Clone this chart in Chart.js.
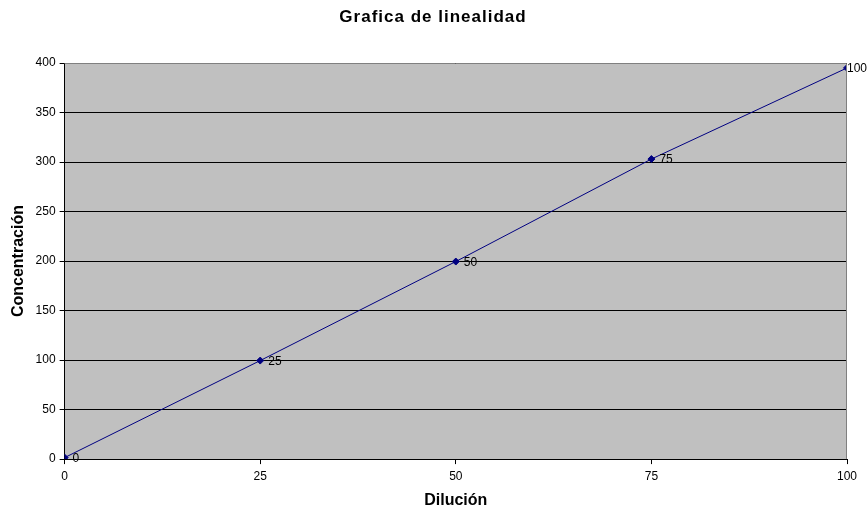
<!DOCTYPE html>
<html>
<head>
<meta charset="utf-8">
<script src="https://cdn.jsdelivr.net/npm/chart.js@4"></script>
<style>
html,body{margin:0;padding:0;background:#fff;}
#wrap{width:867px;height:509px;}
</style>
</head>
<body>
<div id="wrap"><canvas id="c" width="867" height="509"></canvas></div>
<script>
const dilucion = [0, 25, 50, 75, 100];
const concentracion = [1.5, 99.5, 199.5, 303, 395];
const pointLabels = ['0', '25', '50', '75', '100'];
const xTicks = [0, 25, 50, 75, 100];
const chartTitle = 'Grafica de linealidad';

const FAM = '"Liberation Sans", Arial, sans-serif';

const bgPlugin = {
  id: 'bg',
  beforeDraw(chart) {
    const {ctx, chartArea: a} = chart;
    ctx.save();
    ctx.fillStyle = '#C0C0C0';
    ctx.fillRect(a.left, a.top, a.right - a.left, a.bottom - a.top);
    ctx.restore();
  },
  afterDraw(chart) {
    const {ctx, chartArea: a} = chart;
    ctx.save();
    ctx.strokeStyle = '#808080';
    ctx.lineWidth = 1;
    ctx.beginPath();
    ctx.moveTo(a.left, a.top + 0.5);
    ctx.lineTo(a.right - 0.5, a.top + 0.5);
    ctx.lineTo(a.right - 0.5, a.bottom);
    ctx.stroke();
    // title with slight letter spacing
    const tb = chart.titleBlock;
    ctx.fillStyle = '#000';
    ctx.font = 'bold 17px ' + FAM;
    ctx.textAlign = 'center';
    ctx.textBaseline = 'middle';
    const sp = 1.0;
    if ('letterSpacing' in ctx) ctx.letterSpacing = sp + 'px';
    ctx.fillText(chartTitle, chart.width / 2 - 1 + sp / 2, tb.top + 11);
    ctx.restore();
  }
};

const labelPlugin = {
  id: 'ptLabels',
  afterDatasetsDraw(chart) {
    const {ctx} = chart;
    const meta = chart.getDatasetMeta(0);
    ctx.save();
    ctx.fillStyle = '#000';
    ctx.font = '12px ' + FAM;
    ctx.textBaseline = 'middle';
    ctx.textAlign = 'left';
    meta.data.forEach((p, i) => {
      const w = ctx.measureText(pointLabels[i]).width;
      const x = Math.min(p.x + 8, chart.width - w);
      ctx.fillText(pointLabels[i], x, p.y + 1);
    });
    ctx.restore();
  }
};

new Chart(document.getElementById('c'), {
  type: 'scatter',
  data: {
    datasets: [{
      data: dilucion.map((x, i) => ({x: x, y: concentracion[i]})),
      showLine: true,
      borderColor: '#000080',
      backgroundColor: '#000080',
      borderWidth: 1,
      pointStyle: 'rectRot',
      pointRadius: 3.5,
      pointHoverRadius: 3.5
    }]
  },
  options: {
    responsive: false,
    animation: false,
    events: [],
    layout: {padding: {left: 10, right: 20, top: 6, bottom: 0}},
    plugins: {
      legend: {display: false},
      tooltip: {enabled: false},
      title: {
        display: true,
        text: chartTitle,
        color: 'rgba(0,0,0,0)',
        font: {family: FAM, size: 16, weight: 'bold', lineHeight: 1.2},
        padding: {top: 0, bottom: 37.8}
      }
    },
    scales: {
      x: {
        type: 'linear',
        min: 0, max: 100,
        afterBuildTicks(axis) { axis.ticks = xTicks.map(v => ({value: v})); },
        grid: {drawOnChartArea: false, drawTicks: true, tickLength: 5, color: '#000'},
        border: {color: '#000', width: 1},
        ticks: {color: '#000', font: {family: FAM, size: 12, lineHeight: 1.2}, padding: 5, maxRotation: 0},
        title: {display: true, text: 'Dilución', color: '#000',
          font: {family: FAM, size: 16, weight: 'bold', lineHeight: 1.0}, padding: {top: 4.5, bottom: 0}}
      },
      y: {
        min: 0, max: 400,
        ticks: {stepSize: 50, color: '#000', font: {family: FAM, size: 12, lineHeight: 1.2}, padding: 4},
        grid: {color: '#000', tickLength: 5, lineWidth: 1},
        border: {color: '#000', width: 1},
        title: {display: true, text: 'Concentración', color: '#000',
          font: {family: FAM, size: 16, weight: 'bold', lineHeight: 1.1}, padding: {top: 0, bottom: 4}}
      }
    }
  },
  plugins: [bgPlugin, labelPlugin]
});
</script>
</body>
</html>
